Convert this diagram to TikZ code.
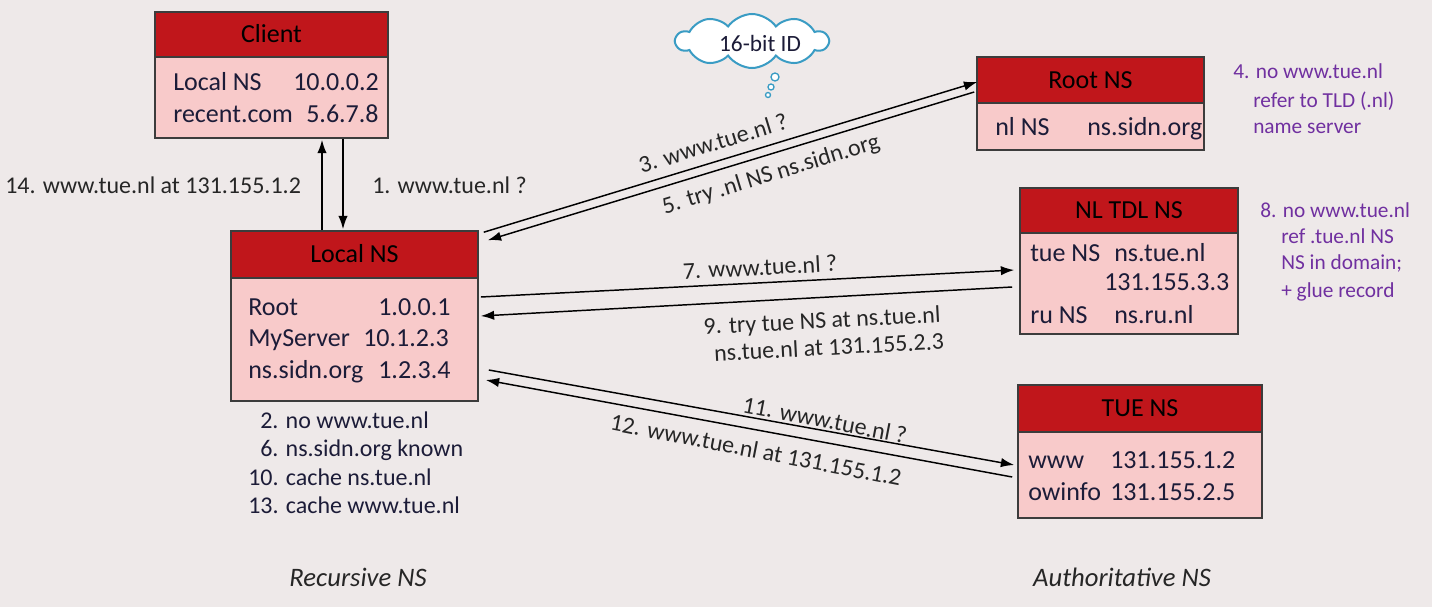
\documentclass[tikz,border=0pt]{standalone}
\usepackage{fontspec}
\setmainfont{Carlito}
\usetikzlibrary{arrows.meta,calc,shapes.symbols}
\newdimen\px \px=0.75pt
\definecolor{bg}{HTML}{EEE9E9}
\definecolor{hdrc}{HTML}{C0161B}
\definecolor{bodyc}{HTML}{F8CACA}
\definecolor{edgec}{HTML}{3C3C3C}
\definecolor{txtc}{HTML}{1C1C38}
\definecolor{notec}{HTML}{7030A0}
\definecolor{cloudc}{HTML}{3A9CC4}
\begin{document}
\begin{tikzpicture}[x=0.75pt,y=-0.75pt,
  hdrbox/.style={draw=edgec,line width=1.2pt,fill=hdrc,inner sep=0pt,text=black,
    font=\fontsize{19.5}{23}\selectfont,text height=12.5pt,text depth=0pt},
  bodybox/.style={draw=edgec,line width=1.2pt,fill=bodyc,inner sep=0pt},
  cell/.style={anchor=base west,inner sep=0pt,text=txtc,font=\fontsize{19.5}{23}\selectfont},
  notep/.style={anchor=base west,inner sep=0pt,text=notec,font=\fontsize{16}{19}\selectfont},
  notel/.style={anchor=base west,inner sep=0pt,text=txtc,font=\fontsize{18}{21}\selectfont},
  lbl/.style={inner sep=0pt,text=black!85,font=\fontsize{18}{21}\selectfont},
  arr/.style={line width=1.1pt,draw=black,-{Latex[length=10pt,width=7pt]}}
]
\fill[bg] (0,0) rectangle (1432,607);
\useasboundingbox (0,0) rectangle (1432,607);

% Client
\node[bodybox,minimum width=233\px,minimum height=81\px] (clientB) at (271.5,97.5) {};
\node[hdrbox,minimum width=233\px,minimum height=45\px] (clientH) at (271.5,34.5) {Client};
\node[cell] (c1a) at (173,90) {Local NS};
\node[cell] (c1b) at (293,90) {10.0.0.2};
\node[cell] (c2a) at (173,122) {recent.com};
\node[cell] (c2b) at (306,122) {5.6.7.8};

% Local NS
\node[bodybox,minimum width=247\px,minimum height=123\px] (localB) at (354.5,339.5) {};
\node[hdrbox,minimum width=247\px,minimum height=47\px] (localH) at (354.5,254.5) {Local NS};
\node[cell] (l1a) at (248,315) {Root};
\node[cell] (l1b) at (378,315) {1.0.0.1};
\node[cell] (l2a) at (248,346.5) {MyServer};
\node[cell] (l2b) at (363,346.5) {10.1.2.3};
\node[cell] (l3a) at (248,378) {ns.sidn.org};
\node[cell] (l3b) at (378,378) {1.2.3.4};
\node[notel] (n2) at (260,428) {2. no www.tue.nl};
\node[notel] (n6) at (260,456.5) {6. ns.sidn.org known};
\node[notel] (n10) at (248,485) {10. cache ns.tue.nl};
\node[notel] (n13) at (248,513.5) {13. cache www.tue.nl};

% Root NS
\node[bodybox,minimum width=227\px,minimum height=47\px] (rootB) at (1090.5,126.5) {};
\node[hdrbox,minimum width=227\px,minimum height=46\px] (rootH) at (1090.5,80) {Root NS};
\node[cell] (r1a) at (995,135) {nl NS};
\node[cell] (r1b) at (1087,135) {ns.sidn.org};
\node[notep] (n4a) at (1233,78) {4. no www.tue.nl};
\node[notep] (n4b) at (1253,107) {refer to TLD (.nl)};
\node[notep] (n4c) at (1253,133) {name server};

% NL TDL NS
\node[bodybox,minimum width=218\px,minimum height=101\px] (nlB) at (1129,283.5) {};
\node[hdrbox,minimum width=218\px,minimum height=45\px] (nlH) at (1129,210.5) {NL TDL NS};
\node[cell] (t1a) at (1030,261) {tue NS};
\node[cell] (t1b) at (1114,261) {ns.tue.nl};
\node[cell] (t2b) at (1104,290) {131.155.3.3};
\node[cell] (t3a) at (1030,323) {ru NS};
\node[cell] (t3b) at (1114,323) {ns.ru.nl};
\node[notep] (n8a) at (1260,217) {8. no www.tue.nl};
\node[notep] (n8b) at (1281,243) {ref .tue.nl NS};
\node[notep] (n8c) at (1281,269) {NS in domain;};
\node[notep] (n8d) at (1281,297) {+ glue record};

% TUE NS
\node[bodybox,minimum width=244\px,minimum height=86\px] (tueB) at (1140,475) {};
\node[hdrbox,minimum width=244\px,minimum height=47\px] (tueH) at (1140,408.5) {TUE NS};
\node[cell] (u1a) at (1028,468) {www};
\node[cell] (u1b) at (1110,468) {131.155.1.2};
\node[cell] (u2a) at (1028,500) {owinfo};
\node[cell] (u2b) at (1110,500) {131.155.2.5};

% cloud
\node[cloud,draw=cloudc,fill=white,line width=1.5pt,cloud puffs=10,cloud puff arc=110,aspect=2.8,
  minimum width=152\px,minimum height=54\px,inner sep=0pt] (cloud) at (752,41) {};
\node[inner sep=0pt,text=txtc,font=\fontsize{17.5}{20}\selectfont] (cloudtxt) at (760,43) {16-bit ID};
\draw[cloudc,fill=white,line width=1pt] (775,77) circle (4);
\draw[cloudc,fill=white,line width=1pt] (771,87) circle (3);
\draw[cloudc,fill=white,line width=1pt] (768,95) circle (2.5);

% client <-> local
\draw[arr] ($(localH.north)+(-32.5,0)$) -- ($(clientB.south)+(50.5,1)$);
\draw[arr] ($(clientB.south)+(71.5,0)$) -- ($(localH.north)+(-11.5,-1)$);
\node[lbl,anchor=base west] (m14) at (5,193) {14. www.tue.nl at 131.155.1.2};
\node[lbl,anchor=base west] (m1) at (372,193) {1. www.tue.nl ?};

% local <-> root
\draw[arr] ($(localH.north east)+(5,2)$) -- ($(rootH.west)+(1,2)$);
\draw[arr] ($(rootH.west)+(-2,12)$) -- ($(localH.north east)+(9,10)$);
\node[lbl,rotate=17] (m3) at (713,143) {3. www.tue.nl ?};
\node[lbl,rotate=17] (m5) at (771,175) {5. try .nl NS ns.sidn.org};

% local <-> NL
\draw[arr] ($(localB.east)+(2,-42.5)$) -- ($(nlB.west)+(-5,-13.5)$);
\draw[arr] ($(nlB.west)+(-7,3.5)$) -- ($(localB.east)+(2,-23.5)$);
\node[lbl,rotate=3] (m7) at (760,267) {7. www.tue.nl ?};
\node[lbl,rotate=3] (m9a) at (822,322) {9. try tue NS at ns.tue.nl};
\node[lbl,rotate=3] (m9b) at (829,347) {ns.tue.nl at 131.155.2.3};

% local <-> TUE
\draw[arr] ($(localB.east)+(10,30.5)$) -- ($(tueB.west)+(-3,-10)$);
\draw[arr] ($(tueB.west)+(-5,2)$) -- ($(localB.east)+(7,40.5)$);
\node[lbl,rotate=-11] (m11) at (825,420) {11. www.tue.nl ?};
\node[lbl,rotate=-11] (m12) at (756,450) {12. www.tue.nl at 131.155.1.2};

% captions
\node[lbl,anchor=base,font=\fontsize{20}{23}\selectfont\itshape] (rec) at (358,586) {Recursive NS};
\node[lbl,anchor=base,font=\fontsize{20}{23}\selectfont\itshape] (auth) at (1122,586) {Authoritative NS};
\end{tikzpicture}
\end{document}
